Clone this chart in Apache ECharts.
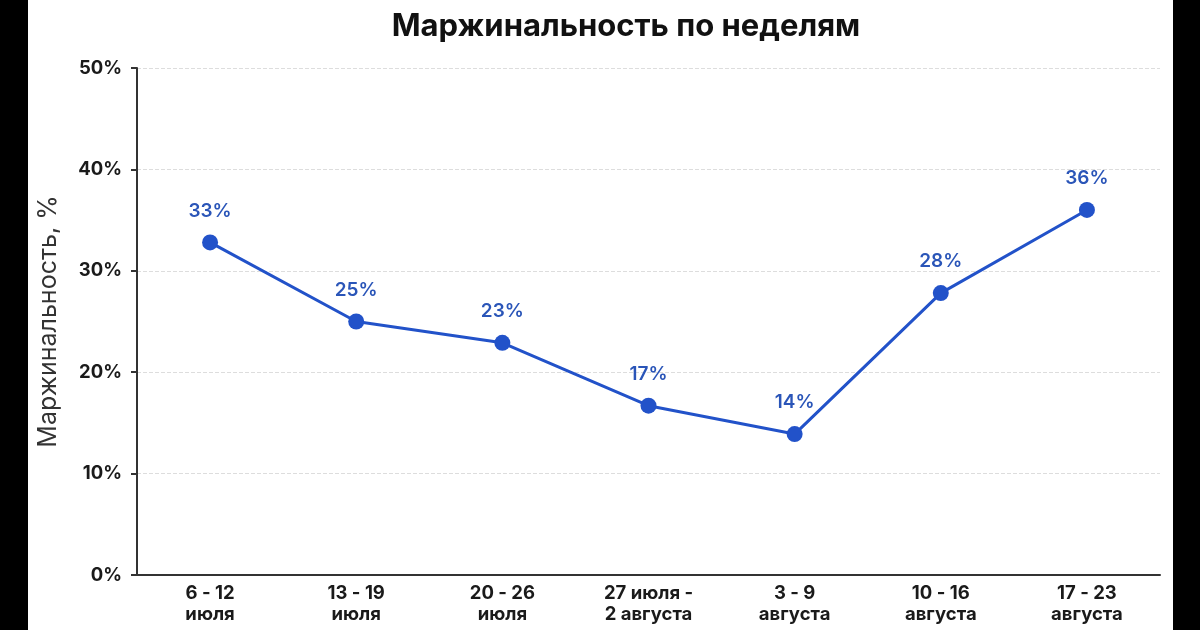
<!DOCTYPE html>
<html>
<head>
<meta charset="utf-8">
<script src="https://cdn.jsdelivr.net/npm/echarts@6/dist/echarts.min.js"></script>
<style>
  html, body { margin: 0; padding: 0; background: #000; }
  #container { position: absolute; left: 28px; top: 0; width: 1145px; height: 630px; background: #fff; }
</style>
</head>
<body>
<div id="container"></div>
<script>
// Маржинальность по неделям
var weeks = ['6 - 12\nиюля', '13 - 19\nиюля', '20 - 26\nиюля', '27 июля -\n2 августа', '3 - 9\nавгуста', '10 - 16\nавгуста', '17 - 23\nавгуста'];
var margin = [32.8, 25.0, 22.9, 16.7, 13.9, 27.8, 36.0];
var yTicks = [0, 10, 20, 30, 40, 50];

var dom = document.getElementById('container');
var myChart = echarts.init(dom);
var font = 'Inter, "Open Sans", sans-serif';

var option = {
  backgroundColor: '#fff',
  title: {
    text: 'Маржинальность по неделям',
    left: 593,
    top: 6,
    textAlign: 'center',
    textStyle: { fontFamily: font, fontSize: 31, fontWeight: 'bold', color: '#111' }
  },
  grid: { left: 104, right: 13, top: 68, bottom: 55, containLabel: false },
  xAxis: {
    type: 'category',
    data: weeks,
    boundaryGap: true,
    axisLine: { lineStyle: { color: '#333', width: 2 } },
    axisTick: { show: false },
    axisLabel: {
      interval: 0,
      margin: 8,
      fontFamily: font,
      fontSize: 18.5,
      fontWeight: 'bold',
      lineHeight: 21,
      color: '#1a1a1a'
    }
  },
  yAxis: {
    type: 'value',
    min: yTicks[0],
    max: yTicks[yTicks.length - 1],
    interval: 10,
    name: 'Маржинальность, %',
    nameLocation: 'middle',
    nameGap: 76,
    nameTextStyle: { fontFamily: font, fontSize: 25, color: '#333' },
    axisLine: { show: true, lineStyle: { color: '#333', width: 2 } },
    axisTick: { show: true, length: 6, lineStyle: { color: '#333', width: 2 } },
    axisLabel: {
      margin: 15,
      fontFamily: font,
      fontSize: 18.5,
      fontWeight: 'bold',
      color: '#1a1a1a',
      formatter: '{value}%'
    },
    splitLine: { lineStyle: { color: '#ddd', type: 'dashed', width: 1 } }
  },
  series: [{
    name: 'Маржинальность',
    type: 'line',
    data: margin,
    symbol: 'circle',
    symbolSize: 16,
    lineStyle: { color: '#2252c9', width: 3 },
    itemStyle: { color: '#2252c9' },
    label: {
      show: true,
      position: 'top',
      distance: 14,
      fontFamily: font,
      fontSize: 19,
      fontWeight: 600,
      color: '#2a55b8',
      formatter: function (p) { return Math.round(p.value) + '%'; }
    }
  }]
};

if (option && typeof option === 'object') {
  myChart.setOption(option, true);
}
</script>
</body>
</html>
